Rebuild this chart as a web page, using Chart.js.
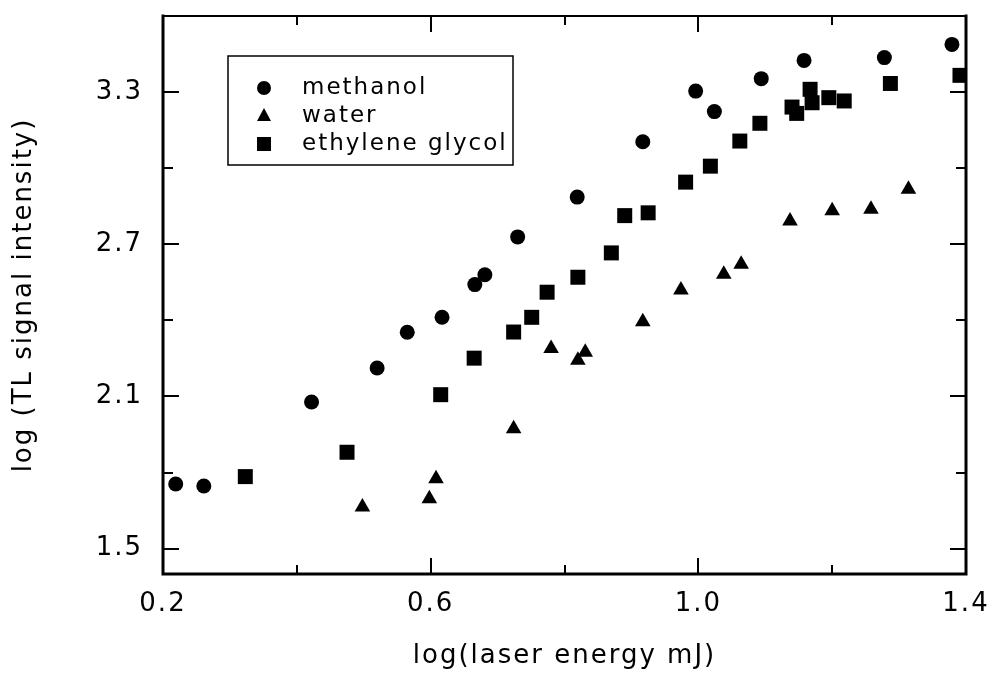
<!DOCTYPE html>
<html>
<head>
<meta charset="utf-8">
<script src="https://cdn.jsdelivr.net/npm/chart.js@4"></script>
<style>
  body { margin: 0; background: #fff; }
  #wrap { width: 995px; height: 674px; }
</style>
</head>
<body>
<div id="wrap"><canvas id="scatter" width="995" height="674"></canvas></div>
<script>
// values
const methanolX = [0.219, 0.261, 0.422, 0.520, 0.565, 0.617, 0.666, 0.681, 0.730, 0.819, 0.917, 0.996, 1.024, 1.094, 1.158, 1.278, 1.379];
const methanolY = [1.755, 1.747, 2.078, 2.212, 2.353, 2.412, 2.541, 2.580, 2.729, 2.886, 3.104, 3.304, 3.223, 3.353, 3.425, 3.436, 3.488];

const waterX = [0.498, 0.598, 0.608, 0.724, 0.780, 0.820, 0.831, 0.917, 0.974, 1.038, 1.064, 1.137, 1.200, 1.258, 1.314];
const waterY = [1.664, 1.697, 1.776, 1.973, 2.289, 2.243, 2.274, 2.395, 2.520, 2.582, 2.621, 2.792, 2.832, 2.838, 2.917];

const glycolX = [0.323, 0.475, 0.615, 0.665, 0.724, 0.751, 0.774, 0.820, 0.870, 0.890, 0.925, 0.981, 1.018, 1.062, 1.092, 1.140, 1.147, 1.167, 1.170, 1.195, 1.218, 1.287, 1.391];
const glycolY = [1.784, 1.880, 2.107, 2.251, 2.354, 2.412, 2.511, 2.570, 2.666, 2.813, 2.824, 2.945, 3.008, 3.107, 3.177, 3.241, 3.216, 3.311, 3.258, 3.278, 3.265, 3.334, 3.366];

const seriesNames = ["methanol", "water", "ethylene glycol"];

const xLabelTicks = [0.2, 0.6, 1.0, 1.4];
const xMinorTicks = [0.4, 0.8, 1.2];
const yLabelTicks = [1.5, 2.1, 2.7, 3.3];
const yMinorTicks = [1.8, 2.4, 3.0];

const FONT = "'DejaVu Sans', sans-serif";

function pts(xs, ys) {
  return xs.map((x, i) => ({ x: x, y: ys[i] }));
}

// the original lettering is wide, so space the letters out a bit
const spacingPlugin = {
  id: "spacing",
  beforeDraw(chart) { chart.ctx.letterSpacing = "2px"; }
};

// frame, inward ticks and boxed legend
const framePlugin = {
  id: "frame",
  afterDraw(chart) {
    const ctx = chart.ctx;
    const a = chart.chartArea;
    const xs = chart.scales.x, ys = chart.scales.y;
    ctx.save();
    ctx.strokeStyle = "#000";
    ctx.lineCap = "square";

    ctx.lineWidth = 2;
    xLabelTicks.concat(xMinorTicks).forEach((v) => {
      const len = xLabelTicks.includes(v) ? 15 : 8;
      const px = Math.round(xs.getPixelForValue(v));
      ctx.beginPath();
      ctx.moveTo(px, a.bottom); ctx.lineTo(px, a.bottom - len);
      ctx.moveTo(px, a.top); ctx.lineTo(px, a.top + len);
      ctx.stroke();
    });
    yLabelTicks.concat(yMinorTicks).forEach((v) => {
      const len = yLabelTicks.includes(v) ? 15 : 9;
      const py = Math.round(ys.getPixelForValue(v));
      ctx.beginPath();
      ctx.moveTo(a.left, py); ctx.lineTo(a.left + len, py);
      ctx.moveTo(a.right, py); ctx.lineTo(a.right - len, py);
      ctx.stroke();
    });

    ctx.lineWidth = 3;
    ctx.beginPath();
    ctx.moveTo(a.left, a.top); ctx.lineTo(a.left, a.bottom);
    ctx.lineTo(a.right, a.bottom); ctx.lineTo(a.right, a.top);
    ctx.stroke();
    ctx.lineWidth = 2;
    ctx.beginPath();
    ctx.moveTo(a.left, a.top); ctx.lineTo(a.right, a.top);
    ctx.stroke();

    // legend box
    const bx = 228, by = 56, bw = 285, bh = 109;
    ctx.lineWidth = 1.5;
    ctx.strokeRect(bx, by, bw, bh);
    ctx.fillStyle = "#000";
    ctx.font = "23px " + FONT;
    ctx.letterSpacing = "2px";
    ctx.textBaseline = "middle";
    const rows = [88, 116, 144];
    chart.data.datasets.forEach((ds, i) => {
      const cx = 264, cy = rows[i];
      ctx.beginPath();
      if (ds.pointStyle === "circle") {
        ctx.arc(cx, cy, 7, 0, Math.PI * 2);
      } else if (ds.pointStyle === "triangle") {
        ctx.moveTo(cx, cy - 8); ctx.lineTo(cx + 7, cy + 5); ctx.lineTo(cx - 7, cy + 5);
        ctx.closePath();
      } else {
        ctx.rect(cx - 7, cy - 7, 14, 14);
      }
      ctx.fill();
      ctx.fillText(ds.label, 302, cy);
    });
    ctx.restore();
  }
};

const scatterConfig = {
  type: "scatter",
  data: {
    datasets: [
      { label: seriesNames[0], data: pts(methanolX, methanolY), pointStyle: "circle", pointRadius: 7.5,
        backgroundColor: "#000", borderColor: "#000", borderWidth: 0 },
      { label: seriesNames[1], data: pts(waterX, waterY), pointStyle: "triangle", pointRadius: 9,
        backgroundColor: "#000", borderColor: "#000", borderWidth: 0 },
      { label: seriesNames[2], data: pts(glycolX, glycolY), pointStyle: "rect", pointRadius: 10.6,
        backgroundColor: "#000", borderColor: "#000", borderWidth: 0 },
    ],
  },
  options: {
    responsive: false,
    animation: false,
    devicePixelRatio: 1,
    layout: { padding: { left: 0, right: 29, top: 16, bottom: 0 } },
    plugins: { legend: { display: false }, tooltip: { enabled: false } },
    scales: {
      x: {
        type: "linear",
        min: 0.2,
        max: 1.4,
        afterBuildTicks: (s) => { s.ticks = xLabelTicks.map((v) => ({ value: v })); },
        afterFit: (s) => { s.height = 100; s.paddingLeft = 0; s.paddingRight = 0; },
        grid: { display: false, drawTicks: false },
        border: { display: false },
        ticks: { color: "#000", padding: 15, maxRotation: 0, font: { family: FONT, size: 26 },
                 callback: (v) => Number(v).toFixed(1) },
        title: { display: true, text: "log(laser energy mJ)", color: "#000",
                 font: { family: FONT, size: 26 }, padding: { top: 0, bottom: 2 } },
      },
      y: {
        type: "linear",
        min: 1.4,
        max: 3.6,
        afterBuildTicks: (s) => { s.ticks = yLabelTicks.map((v) => ({ value: v })); },
        afterFit: (s) => { s.width = 163; s.paddingTop = 0; s.paddingBottom = 0; },
        grid: { display: false, drawTicks: false },
        border: { display: false },
        ticks: { color: "#000", padding: 20, font: { family: FONT, size: 26 },
                 callback: (v) => Number(v).toFixed(1) },
        title: { display: true, text: "log (TL signal intensity)", color: "#000",
                 font: { family: FONT, size: 26 }, padding: { top: 9, bottom: 0 } },
      },
    },
  },
  plugins: [spacingPlugin, framePlugin],
};

const scatterCtx = document.getElementById("scatter");
window.myScatter = new Chart(scatterCtx, scatterConfig);
</script>
</body>
</html>
